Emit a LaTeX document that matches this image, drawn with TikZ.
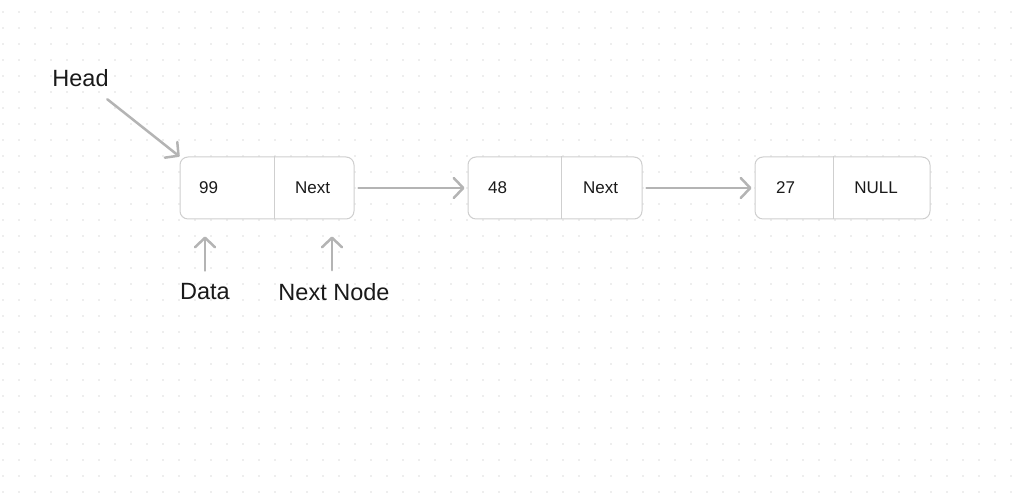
\documentclass[tikz,border=0pt]{standalone}
\usepackage{fontspec}
\setmainfont{Liberation Sans}
\usetikzlibrary{arrows.meta}
\definecolor{dotgray}{HTML}{DEDEDE}
\definecolor{boxgray}{HTML}{CFCFCF}
\definecolor{linkgray}{HTML}{B4B4B4}
\definecolor{inkgray}{HTML}{1A1A1A}
\tikzset{
    listbox/.style={draw=boxgray, line width=1pt, fill=white, rounded corners=8pt,
        minimum height=62pt, inner sep=0pt},
    celltext/.style={inner sep=0pt, text=inkgray, font=\fontsize{17}{20}\selectfont},
    label/.style={inner sep=0pt, text=inkgray, font=\fontsize{23.5}{28}\selectfont},
    link/.style={draw=linkgray, line width=2.5pt, line cap=round,
        -{Straight Barb[length=9.5pt,width=20pt,line cap=round,line join=round]}},
}
\begin{document}
\begin{tikzpicture}[x=1pt, y=1pt]
                \useasboundingbox (0, 0) rectangle (1026, 497);
                \fill[white] (0, 0) rectangle (1026, 497);
                \foreach \i in {0,...,63}
                    \foreach \j in {0,...,30}
                        \fill[dotgray] ({3+16*\i}, {485-16*\j}) circle (0.9pt);

                \node[listbox, minimum width=174pt] (n1) at (267, 309) {};
                \node[listbox, minimum width=174pt] (n2) at (555, 309) {};
                \node[listbox, minimum width=175pt] (n3) at (842.5, 309) {};
                \draw[boxgray, line width=1pt] ([xshift=95pt]n1.north west) -- ([xshift=95pt]n1.south west);
                \draw[boxgray, line width=1pt] ([xshift=94pt]n2.north west) -- ([xshift=94pt]n2.south west);
                \draw[boxgray, line width=1pt] ([xshift=79pt]n3.north west) -- ([xshift=79pt]n3.south west);

                \node[celltext, anchor=west] (d1) at (199, 309) {99};
                \node[celltext] (p1) at (312.5, 309) {Next};
                \node[celltext, anchor=west] (d2) at (488, 309) {48};
                \node[celltext] (p2) at (600.5, 309) {Next};
                \node[celltext, anchor=west] (d3) at (776, 309) {27};
                \node[celltext] (p3) at (876, 309) {NULL};

                \node[label] (head) at (80.5, 419) {Head};
                \node[label] (data) at (205, 205) {Data};
                \node[label] (next) at (334, 205) {Next Node};

                \draw[link, shorten <=20pt] (head) -- (n1.north west);
                \draw[link, shorten <=4pt, shorten >=3pt] (n1.east) -- (n2.west);
                \draw[link, shorten <=4pt, shorten >=3pt] (n2.east) -- (n3.west);
                \draw[link, shorten <=13pt, shorten >=17pt] (data.north) -- (data.north |- n1.south);
                \draw[link, shorten <=13pt, shorten >=17pt] ([xshift=-2pt]next.north) -- ([xshift=-2pt]next.north |- n1.south);

            \end{tikzpicture}
\end{document}
